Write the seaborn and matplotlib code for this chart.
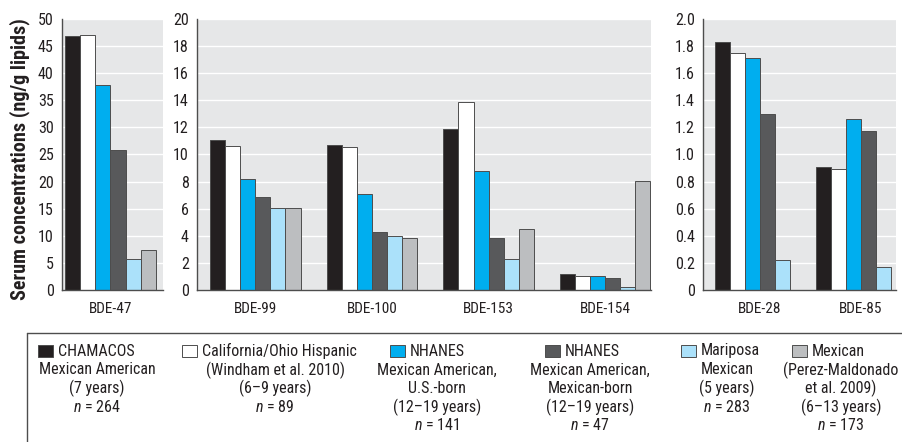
import numpy as np
import pandas as pd
import seaborn as sns
from matplotlib import pyplot as plt
from matplotlib.patches import Rectangle
from matplotlib.lines import Line2D

# groups and colours
groups = ['CHAMACOS', 'California/Ohio', 'NHANES US-born', 'NHANES Mexican-born', 'Mariposa', 'Mexican']
colors = ['#231f20', '#ffffff', '#00aeef', '#58595b', '#abe1fa', '#bcbec0']

# serum concentrations (ng/g lipids), one list per congener, in group order
bde47 = [46.8, 47.1, 37.8, 25.8, 5.7, 7.3]
bde99 = [11.1, 10.6, 8.2, 6.85, 6.05, 6.05]
bde100 = [10.7, 10.55, 7.05, 4.3, 3.95, 3.8]
bde153 = [11.9, 13.9, 8.8, 3.8, 2.3, 4.5]
bde154 = [1.2, 1.05, 1.0, 0.85, 0.25, 8.05]
bde28 = [1.83, 1.75, 1.71, 1.30, 0.22, np.nan]
bde85 = [0.91, 0.89, 1.26, 1.17, 0.17, np.nan]

congeners = {'BDE-47': bde47, 'BDE-99': bde99, 'BDE-100': bde100, 'BDE-153': bde153,
             'BDE-154': bde154, 'BDE-28': bde28, 'BDE-85': bde85}

legend_first = ['CHAMACOS', 'California/Ohio Hispanic', 'NHANES', 'NHANES', 'Mariposa', 'Mexican']
legend_rest = [
    ['Mexican American', '(7 years)', '$n$ = 264'],
    ['(Windham et al. 2010)', '(6\u20139 years)', '$n$ = 89'],
    ['Mexican American,', 'U.S.-born', '(12\u201319 years)', '$n$ = 141'],
    ['Mexican American,', 'Mexican-born', '(12\u201319 years)', '$n$ = 47'],
    ['Mexican', '(5 years)', '$n$ = 283'],
    ['(Perez-Maldonado', 'et al. 2009)', '(6\u201313 years)', '$n$ = 173'],
]

rows = []
for c, vals in congeners.items():
    for g, v in zip(groups, vals):
        rows.append({'congener': c, 'group': g, 'value': v})
df = pd.DataFrame(rows)

sns.set_style('darkgrid', {'axes.facecolor': '#e6e7e8', 'grid.color': 'white',
                           'axes.edgecolor': '#4d4d4d'})
plt.rcParams['font.family'] = ['Roboto Condensed', 'DejaVu Sans']
plt.rcParams['mathtext.fontset'] = 'custom'
plt.rcParams['mathtext.it'] = 'Roboto Condensed:italic'
plt.rcParams['mathtext.rm'] = 'Roboto Condensed'

fig = plt.figure(figsize=(9.02, 4.42), dpi=100)

panels = [
    (['BDE-47'], [0.0687, 0.344, 0.112, 0.613], (-0.48, 0.52), 0.9,
     np.arange(0, 51, 5), [str(v) for v in range(0, 51, 5)]),
    (['BDE-99', 'BDE-100', 'BDE-153', 'BDE-154'], [0.2184, 0.344, 0.503, 0.613], (-0.5, 3.39), 0.775,
     np.arange(0, 21, 2), [str(v) for v in range(0, 21, 2)]),
    (['BDE-28', 'BDE-85'], [0.7794, 0.344, 0.214, 0.613], (-0.564, 1.347), 0.891,
     np.arange(0, 2.01, 0.2), ['0'] + ['%.1f' % v for v in np.arange(0.2, 2.01, 0.2)]),
]

for names, pos, xlim, w, yt, ytl in panels:
    ax = fig.add_axes(pos)
    sub = df[df.congener.isin(names)]
    sns.barplot(data=sub, x='congener', y='value', hue='group', order=names,
                hue_order=groups, palette=colors, saturation=1, width=w,
                edgecolor='#4d4d4d', linewidth=0.7, legend=False, ax=ax)
    ax.set_xlim(*xlim)
    ax.set_ylim(yt[0], yt[-1])
    ax.set_yticks(yt)
    ax.set_yticklabels(ytl, fontsize=11.5, color='#231f20')
    ax.set_xlabel('')
    ax.set_ylabel('')
    ax.grid(axis='x', visible=False)
    ax.grid(axis='y', color='white', linewidth=1)
    ax.tick_params(axis='y', length=0, pad=6)
    ax.tick_params(axis='x', length=0, pad=9, labelsize=11, labelcolor='#231f20')
    for s in ['top', 'right']:
        ax.spines[s].set_visible(False)
    for s in ['left', 'bottom']:
        ax.spines[s].set_visible(True)
        ax.spines[s].set_color('#4d4d4d')
        ax.spines[s].set_linewidth(1)

fig.text(0.022, 0.64, 'Serum concentrations (ng/g lipids)', rotation=90,
         ha='center', va='center', fontsize=14.5, fontweight='bold', color='#231f20')

# legend box
fig.add_artist(Line2D([27 / 902, 1.0], [1 - 333 / 442] * 2, transform=fig.transFigure,
                      color='#4d4d4d', linewidth=1))
fig.add_artist(Line2D([27 / 902] * 2, [1 - 333 / 442, 0], transform=fig.transFigure,
                      color='#4d4d4d', linewidth=1))

square_x = [38, 182, 390, 545, 681, 792]
center_x = [97, 275, 437, 590, 727, 841]
for i in range(6):
    fig.add_artist(Rectangle((square_x[i] / 902, 1 - 357 / 442), 15 / 902, 12 / 442,
                             transform=fig.transFigure, facecolor=colors[i],
                             edgecolor='#4d4d4d', linewidth=0.7))
    fig.text((square_x[i] + 20) / 902, 1 - 351 / 442, legend_first[i], ha='left',
             va='center', fontsize=11.5, color='#231f20')
    for j, line in enumerate(legend_rest[i]):
        fig.text(center_x[i] / 902, 1 - (370 + 18.5 * j) / 442, line, ha='center',
                 va='center', fontsize=11.5, color='#231f20')

fig.savefig('out.png', dpi=100)
